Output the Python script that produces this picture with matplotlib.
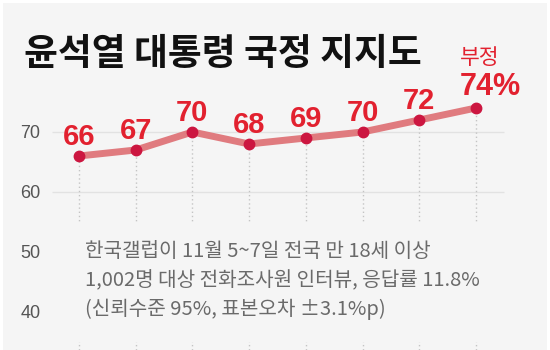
import matplotlib
matplotlib.use("Agg")
import matplotlib.pyplot as plt
from matplotlib.patches import Rectangle

# data
values = [66, 67, 70, 68, 69, 70, 72, 74]
y_ticks = [40, 50, 60, 70]
grid_vals = [60, 70]
title = "윤석열 대통령 국정 지지도"
last_tag = "부정"
note_lines = [
    "한국갤럽이 11월 5~7일 전국 만 18세 이상",
    "1,002명 대상 전화조사원 인터뷰, 응답률 11.8%",
    "(신뢰수준 95%, 표본오차 ±3.1%p)",
]

BG = "#f5f5f5"
RED = "#e2212f"
DOT = "#cc1640"
LINE = "#e07b7f"
KR = ["Noto Sans CJK KR", "DejaVu Sans"]
NUM = ["Liberation Sans", "Noto Sans CJK KR"]

W, H = 550, 350
fig = plt.figure(figsize=(5.5, 3.5), dpi=100, facecolor="white")
fig.patches.append(Rectangle((3 / W, 0), (W - 6) / W, (H - 3) / H,
                             transform=fig.transFigure, facecolor=BG,
                             edgecolor="none", zorder=-10))

ax = fig.add_axes([0, 0, 1, 1])
ax.set_facecolor("none")
step = 56.7
ax.set_xlim(-79 / step, 7 + (W - 476) / step)
ax.set_ylim(70 - (H - 132) / 6, 70 + 132 / 6)
for s in ax.spines.values():
    s.set_visible(False)
ax.set_xticks([])
ax.set_yticks(y_ticks)
ax.set_yticklabels([str(t) for t in y_ticks])
ax.tick_params(axis="y", length=0, pad=-29, labelsize=13, labelcolor="#555555")
for lab in ax.get_yticklabels():
    lab.set_family(NUM)

xs = list(range(len(values)))
ax.hlines(grid_vals, -27 / step, 7 + 28 / step, color="#e2e2e2", lw=1, zorder=1)
ax.vlines(xs, ax.get_ylim()[0], values, color="#c4c4c4", lw=1,
          linestyles=(0, (1, 2)), zorder=1)
# box behind the footnote hides the dotted guides
ax.add_patch(Rectangle((-0.3, 35), 7.8, 20, facecolor=BG, edgecolor="none", zorder=2))

ax.plot(xs, values, color=LINE, lw=5, solid_capstyle="round", zorder=3)
ax.plot(xs, values, "o", color=DOT, ms=7.5, zorder=4)

for x, v in zip(xs[:-1], values[:-1]):
    ax.annotate(str(v), (x, v), xytext=(0, 8), textcoords="offset points",
                ha="center", va="baseline", fontsize=21, fontweight="bold",
                color=RED, family=NUM, zorder=5)
ax.annotate(f"{values[-1]}%", (xs[-1], values[-1]), xytext=(-11.5, 9.5),
            textcoords="offset points", ha="left", va="baseline", fontsize=22,
            fontweight="bold", color=RED, family=NUM, zorder=5)
ax.annotate(last_tag, (xs[-1], values[-1]), xytext=(-11.5, 32),
            textcoords="offset points", ha="left", va="baseline", fontsize=15.5,
            color=RED, family=KR, zorder=5)

fig.text(24 / W, 1 - 65 / H, title, fontsize=26.5, fontweight="bold",
         color="#111111", family=KR, ha="left", va="baseline")

for i, line in enumerate(note_lines):
    fig.text(85 / W, 1 - (257 + 29 * i) / H, line, fontsize=14.5, color="#6a6a6a",
             family=KR, ha="left", va="baseline", zorder=6)

fig.savefig("out.png", dpi=100, facecolor=fig.get_facecolor())
